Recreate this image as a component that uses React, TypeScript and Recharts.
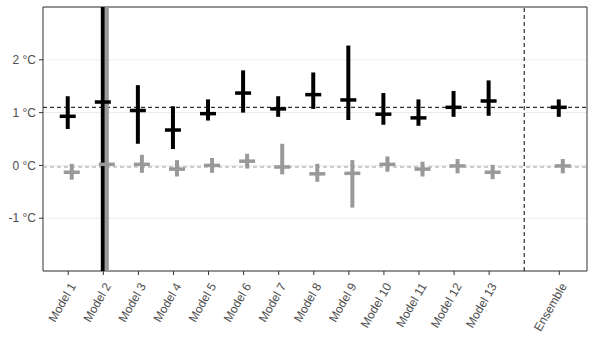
import {
  ComposedChart,
  Scatter,
  ErrorBar,
  XAxis,
  YAxis,
  CartesianGrid,
  ReferenceLine,
  ReferenceArea,
} from "recharts";

const labels = [
  "Model 1", "Model 2", "Model 3", "Model 4", "Model 5", "Model 6", "Model 7",
  "Model 8", "Model 9", "Model 10", "Model 11", "Model 12", "Model 13", "Ensemble",
];
const positions = [1, 2, 3, 4, 5, 6, 7, 8, 9, 10, 11, 12, 13, 15];

// black series (centre + range); Model 2 range runs off the panel both ways
const warmMid = [0.93, 1.2, 1.04, 0.67, 0.98, 1.37, 1.07, 1.34, 1.24, 0.97, 0.9, 1.1, 1.22, 1.1];
const warmLow = [0.69, -2, 0.41, 0.31, 0.85, 1.0, 0.92, 1.07, 0.86, 0.77, 0.75, 0.92, 0.94, 0.92];
const warmHigh = [1.31, 3, 1.52, 1.12, 1.25, 1.8, 1.31, 1.76, 2.27, 1.37, 1.25, 1.41, 1.61, 1.25];

// grey series (centre + range)
const coolMid = [-0.13, 0.02, 0.02, -0.07, 0.0, 0.08, -0.03, -0.16, -0.15, 0.02, -0.07, -0.01, -0.13, -0.01];
const coolLow = [-0.27, -2, -0.14, -0.21, -0.14, -0.06, -0.17, -0.31, -0.8, -0.12, -0.21, -0.15, -0.26, -0.15];
const coolHigh = [0.03, 3, 0.2, 0.1, 0.14, 0.22, 0.41, 0.03, 0.1, 0.17, 0.07, 0.12, 0.01, 0.12];

const warmMean = 1.1;
const coolMean = -0.03;
const separator = 14;
const yTicks = [-1, 0, 1, 2];

const X_DOMAIN: [number, number] = [0.28, 15.79];
const BLACK = "#000000";
const GREY = "#999999";

const build = (mid: number[], low: number[], high: number[], shift: number) =>
  positions.map((p, i) => ({
    x: p + shift,
    y: mid[i],
    err: [mid[i] - low[i], high[i] - mid[i]],
  }));

const warmData = build(warmMid, warmLow, warmHigh, -0.015);
const coolData = build(coolMid, coolLow, coolHigh, 0.1);

const Dash = (color: string) => (props: any) => {
  const { cx, cy } = props;
  if (cx == null || cy == null) return <g />;
  return <rect x={cx - 8} y={cy - 1.75} width={16} height={3.5} fill={color} />;
};
const Nothing = () => <g />;

const XTick = (props: any) => {
  const { x, y, payload } = props;
  const idx = positions.indexOf(payload.value);
  const ax = x + 8;
  const ay = y + 9;
  return (
    <text
      x={ax}
      y={ay}
      transform={`rotate(-60, ${ax}, ${ay})`}
      textAnchor="end"
      fontSize={12}
      fill="#4d4d4d"
    >
      {idx >= 0 ? labels[idx] : ""}
    </text>
  );
};

export default function App() {
  return (
    <div style={{ position: "absolute", left: 0, top: 0 }}>
      <ComposedChart
        width={595}
        height={359}
        margin={{ top: 7, right: 8, left: 0, bottom: 0 }}
        style={{ fontFamily: "'Liberation Sans', Arial, sans-serif", background: "#fff" }}
      >
        <CartesianGrid vertical={false} stroke="#ebebeb" strokeWidth={1} />
        <XAxis
          type="number"
          dataKey="x"
          domain={X_DOMAIN}
          allowDataOverflow
          ticks={positions}
          interval={0}
          height={88}
          axisLine={false}
          tickSize={4}
          tickLine={{ stroke: "#333333" }}
          tick={<XTick />}
        />
        <YAxis
          type="number"
          dataKey="y"
          domain={[-2, 3]}
          allowDataOverflow
          ticks={yTicks}
          width={43}
          axisLine={false}
          tickSize={4}
          tickMargin={3}
          tickLine={{ stroke: "#333333" }}
          tick={{ fontSize: 12, fill: "#4d4d4d" }}
          tickFormatter={(v: number) => `${v} °C`}
        />
        <ReferenceLine y={warmMean} stroke={BLACK} strokeDasharray="4 3" />
        <ReferenceLine y={coolMean} stroke={GREY} strokeDasharray="4 3" />
        <ReferenceLine x={separator} stroke={BLACK} strokeDasharray="4 3" />
        <Scatter data={warmData} shape={Nothing} isAnimationActive={false}>
          <ErrorBar dataKey="err" direction="y" width={0} stroke={BLACK} strokeWidth={4} isAnimationActive={false} />
        </Scatter>
        <Scatter data={coolData} shape={Nothing} isAnimationActive={false}>
          <ErrorBar dataKey="err" direction="y" width={0} stroke={GREY} strokeWidth={4} isAnimationActive={false} />
        </Scatter>
        <Scatter data={warmData} shape={Dash(BLACK)} isAnimationActive={false} />
        <Scatter data={coolData} shape={Dash(GREY)} isAnimationActive={false} />
        <ReferenceArea
          x1={X_DOMAIN[0]}
          x2={X_DOMAIN[1]}
          y1={-2}
          y2={3}
          fill="none"
          stroke="#333333"
          strokeWidth={1}
          ifOverflow="visible"
        />
      </ComposedChart>
    </div>
  );
}
